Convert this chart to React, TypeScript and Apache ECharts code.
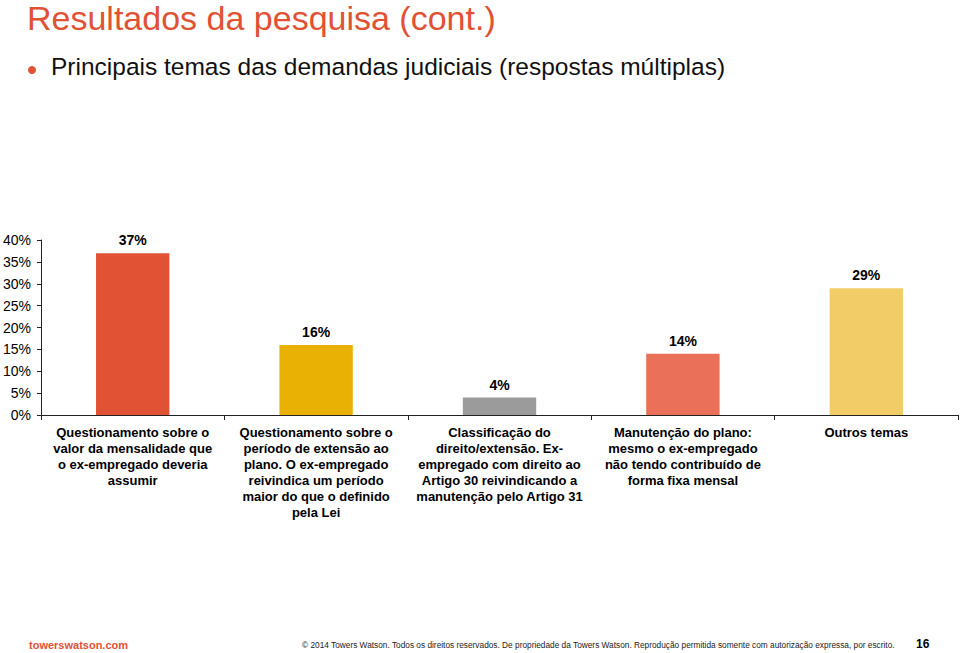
import React, { useEffect, useRef } from "react";
import * as echarts from "echarts";

const categories: string[] = [
  "Questionamento sobre o\nvalor da mensalidade que\no ex-empregado deveria\nassumir",
  "Questionamento sobre o\nperíodo de extensão ao\nplano. O ex-empregado\nreivindica um período\nmaior do que o definido\npela Lei",
  "Classificação do\ndireito/extensão. Ex-\nempregado com direito ao\nArtigo 30 reivindicando a\nmanutenção pelo Artigo 31",
  "Manutenção do plano:\nmesmo o ex-empregado\nnão tendo contribuído de\nforma fixa mensal",
  "Outros temas",
];
const values: number[] = [37, 16, 4, 14, 29];
const barColors: string[] = ["#E15133", "#E9B103", "#9B9B9B", "#EB705A", "#F2CD67"];

const titleText = "Resultados da pesquisa (cont.)";
const subtitleText = "Principais temas das demandas judiciais (respostas múltiplas)";
const footerLeft = "towerswatson.com";
const footerCopy =
  "© 2014 Towers Watson. Todos os direitos reservados. De propriedade da Towers Watson. Reprodução permitida somente com autorização expressa, por escrito.";
const pageNumber = "16";

const FONT = "Liberation Sans, Arial, Helvetica, sans-serif";

export default function App() {
  const ref = useRef<HTMLDivElement>(null);
  useEffect(() => {
    if (!ref.current) return;
    const chart = echarts.init(ref.current, undefined, { renderer: "svg" });
    chart.setOption({
      animation: false,
      backgroundColor: "#ffffff",
      textStyle: { fontFamily: FONT },
      grid: { left: 41, right: 2, top: 240, bottom: 238, containLabel: false },
      xAxis: {
        type: "category",
        data: categories,
        axisLine: { lineStyle: { color: "#222", width: 1 } },
        axisTick: { show: true, alignWithLabel: false, length: 5, lineStyle: { color: "#222" } },
        axisLabel: {
          interval: 0,
          margin: 9,
          color: "#000",
          fontSize: 13,
          fontWeight: "bold",
          lineHeight: 16,
          fontFamily: FONT,
        },
      },
      yAxis: {
        type: "value",
        min: 0,
        max: 40,
        interval: 5,
        axisLine: { show: true, lineStyle: { color: "#222", width: 1 } },
        axisTick: { show: true, length: 4, lineStyle: { color: "#222" } },
        splitLine: { show: false },
        axisLabel: {
          formatter: "{value}%",
          color: "#000",
          fontSize: 14,
          margin: 10,
          fontFamily: FONT,
        },
      },
      series: [
        {
          type: "bar",
          data: values.map((v, i) => ({ value: v, itemStyle: { color: barColors[i] } })),
          barWidth: "40%",
          label: {
            show: true,
            position: "top",
            distance: 6,
            formatter: "{c}%",
            color: "#000",
            fontSize: 14,
            fontWeight: "bold",
            fontFamily: FONT,
          },
        },
      ],
      graphic: [
        {
          type: "text",
          left: 27,
          top: 1,
          style: {
            text: titleText,
            fill: "#E15133",
            font: `34px ${FONT}`,
          },
        },
        {
          type: "circle",
          shape: { cx: 32, cy: 70, r: 4 },
          style: { fill: "#E15133" },
        },
        {
          type: "text",
          left: 51,
          top: 54,
          style: {
            text: subtitleText,
            fill: "#111",
            font: `24.5px ${FONT}`,
          },
        },
        {
          type: "text",
          left: 29,
          top: 639,
          style: {
            text: footerLeft,
            fill: "#E15133",
            font: `bold 11px ${FONT}`,
          },
        },
        {
          type: "text",
          left: 302,
          top: 641,
          style: {
            text: footerCopy,
            fill: "#222",
            font: `8.3px ${FONT}`,
          },
        },
        {
          type: "text",
          left: 916,
          top: 638,
          style: {
            text: pageNumber,
            fill: "#000",
            font: `bold 12px ${FONT}`,
          },
        },
      ],
    });
    return () => chart.dispose();
  }, []);
  return (
    <div
      ref={ref}
      style={{ position: "fixed", left: 0, top: 0, width: 960, height: 653 }}
    />
  );
}
